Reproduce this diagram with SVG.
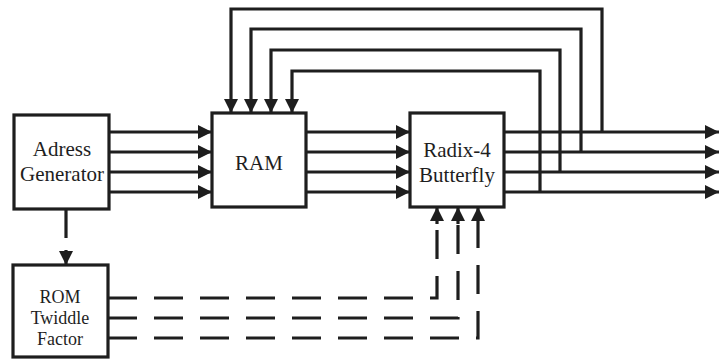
<svg xmlns="http://www.w3.org/2000/svg" width="719" height="360" viewBox="0 0 719 360">
<style>
.box{fill:#fff;stroke:#1e1e1e;stroke-width:3.2}
.ln{fill:none;stroke:#1e1e1e;stroke-width:3.2;marker-end:url(#ah)}
.dl{fill:none;stroke:#1e1e1e;stroke-width:3.2;stroke-dasharray:29 17}
text{font-family:'Liberation Serif','Times New Roman','DejaVu Serif',serif;font-size:21px;fill:#1e1e1e;text-anchor:middle}
.ts{font-size:18px}
</style>
<defs>
<marker id="ah" markerUnits="userSpaceOnUse" markerWidth="14" markerHeight="14" refX="14" refY="7" orient="auto" viewBox="0 0 14 14">
<path d="M0,0 L14,7 L0,14 z" fill="#1e1e1e"/>
</marker>
</defs>
<g id="connectors">
<path class="ln" d="M109,132 H212"/>
<path class="ln" d="M109,152 H212"/>
<path class="ln" d="M109,172 H212"/>
<path class="ln" d="M109,192 H212"/>
<path class="ln" d="M306,132 H410"/>
<path class="ln" d="M306,152 H410"/>
<path class="ln" d="M306,172 H410"/>
<path class="ln" d="M306,192 H410"/>
<path class="ln" d="M504,132 H719"/>
<path class="ln" d="M504,152 H719"/>
<path class="ln" d="M504,172 H719"/>
<path class="ln" d="M504,192 H719"/>
<path class="ln" d="M602,132 V9 H231 V113"/>
<path class="ln" d="M581,152 V29 H251 V113"/>
<path class="ln" d="M560,172 V50 H271 V113"/>
<path class="ln" d="M540,192 V71 H292 V113"/>
<path class="dl" d="M66,209 V250"/>
<path class="ln" d="M66,250 V265"/>
<path class="dl" d="M108,298 H437 V224"/>
<path class="dl" d="M108,318 H458 V224"/>
<path class="dl" d="M108,338 H478 V224"/>
<path class="ln" d="M437,224 V207"/>
<path class="ln" d="M458,224 V207"/>
<path class="ln" d="M478,224 V207"/>
</g>
<g id="adress-generator">
<rect class="box" x="14" y="115" width="95" height="94"/>
<text x="62" y="156" font-family="Liberation Serif, serif">Adress</text>
<text x="62" y="181" font-family="Liberation Serif, serif">Generator</text>
</g>
<g id="ram">
<rect class="box" x="212" y="113" width="94" height="94"/>
<text x="259" y="170" font-family="Liberation Serif, serif">RAM</text>
</g>
<g id="radix4-butterfly">
<rect class="box" x="410" y="113" width="94" height="94"/>
<text x="457" y="157" font-family="Liberation Serif, serif">Radix-4</text>
<text x="457" y="182" font-family="Liberation Serif, serif">Butterfly</text>
</g>
<g id="rom-twiddle-factor">
<rect class="box" x="13" y="265" width="95" height="92"/>
<text class="ts" x="60" y="303" font-family="Liberation Serif, serif">ROM</text>
<text class="ts" x="60" y="324" font-family="Liberation Serif, serif">Twiddle</text>
<text class="ts" x="60" y="345" font-family="Liberation Serif, serif">Factor</text>
</g>
</svg>
